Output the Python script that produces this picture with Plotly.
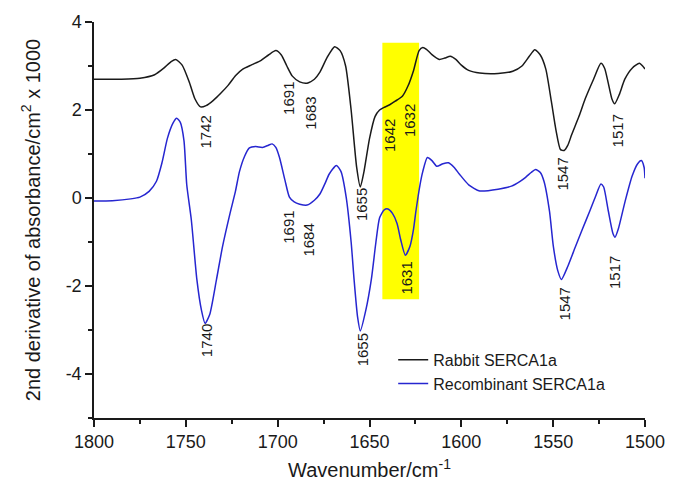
import plotly.graph_objects as go

# ---- data (wavenumber cm-1, 2nd derivative x1000) ----
rabbit_wn = [1800, 1785, 1775, 1767, 1762, 1758, 1755.5, 1752, 1748, 1745, 1742, 1739, 1735, 1731,
             1727, 1723, 1719, 1714, 1709, 1705, 1701, 1698, 1695, 1692, 1688, 1684, 1680, 1677,
             1673, 1669, 1666, 1663, 1660, 1657, 1655, 1653, 1650, 1647, 1644.5, 1642, 1639, 1636,
             1632, 1629, 1626, 1623, 1621, 1619, 1616, 1612, 1609, 1606, 1603, 1600, 1596, 1590,
             1580, 1572, 1567, 1563, 1560, 1557, 1554, 1551, 1548.5, 1546, 1544, 1542, 1540, 1536,
             1532.5, 1528, 1524, 1522, 1520, 1518, 1516.5, 1514, 1511, 1507, 1503, 1500]
rabbit_val = [2.70, 2.70, 2.72, 2.80, 2.95, 3.10, 3.15, 3.02, 2.62, 2.25, 2.07, 2.10, 2.22, 2.38,
              2.56, 2.78, 2.93, 3.03, 3.13, 3.25, 3.35, 3.25, 3.00, 2.77, 2.64, 2.61, 2.70, 2.86,
              3.20, 3.44, 3.35, 3.00, 2.00, 0.70, 0.25, 0.60, 1.35, 1.85, 2.00, 2.06, 2.12, 2.20,
              2.32, 2.55, 2.90, 3.35, 3.42, 3.38, 3.26, 3.15, 3.18, 3.22, 3.15, 3.02, 2.90, 2.84,
              2.83, 2.88, 3.00, 3.22, 3.37, 3.25, 2.93, 2.20, 1.55, 1.10, 1.08, 1.20, 1.43, 1.85,
              2.26, 2.70, 3.06, 2.95, 2.61, 2.25, 2.14, 2.35, 2.70, 2.95, 3.06, 2.93]

recomb_wn = [1800, 1790, 1780, 1775, 1770, 1766, 1763, 1760, 1757, 1755, 1753, 1751, 1749.5, 1747,
             1744, 1741.5, 1739.5, 1737, 1733.3, 1730, 1726, 1723, 1720.8, 1718, 1715.4, 1712, 1708.3,
             1705, 1703, 1701, 1699, 1696, 1693.6, 1691, 1688, 1684, 1680, 1677, 1674, 1672, 1668,
             1665.5, 1662.7, 1660, 1658.4, 1656.5, 1655, 1652, 1649, 1646.5, 1644.5, 1642, 1640,
             1637.5, 1635, 1633, 1630.5, 1628, 1626, 1624.7, 1622.5, 1621, 1618.5, 1616, 1613.4,
             1610, 1607, 1604, 1601, 1596, 1590, 1580, 1572.7, 1568, 1565, 1562, 1559.6, 1557, 1555,
             1552, 1549.9, 1547.5, 1545.5, 1542, 1538, 1534, 1530, 1527, 1524, 1522.5,
             1520, 1517.5, 1516.3, 1514.5, 1510.8, 1507, 1504, 1502, 1500.5, 1500]
recomb_val = [-0.07, -0.06, -0.02, 0.02, 0.15, 0.38, 0.80, 1.36, 1.70, 1.81, 1.72, 1.30, 0.30, -0.50,
              -1.85, -2.55, -2.85, -2.65, -1.85, -1.10, -0.36, 0.15, 0.60, 0.95, 1.14, 1.17, 1.15,
              1.20, 1.23, 1.15, 0.92, 0.40, 0.02, -0.09, -0.14, -0.16, -0.05, 0.09, 0.35, 0.54, 0.74,
              0.60, 0.02, -1.00, -1.85, -2.70, -3.02, -2.55, -1.85, -1.00, -0.45, -0.27, -0.25,
              -0.35, -0.58, -0.95, -1.30, -1.10, -0.70, -0.29, 0.30, 0.60, 0.92, 0.85, 0.72,
              0.78, 0.80, 0.70, 0.54, 0.30, 0.16, 0.20, 0.27, 0.38, 0.47, 0.58, 0.65, 0.58, 0.38,
              -0.30, -1.10, -1.65, -1.85, -1.55, -1.12, -0.70, -0.29, 0.03, 0.32, 0.25,
              -0.29, -0.80, -0.89, -0.70, -0.07, 0.50, 0.78, 0.85, 0.70, 0.45]

# peak labels: text, x (wavenumber), y (value) of label centre
rabbit_labels = ["1742", "1691", "1683", "1655", "1642", "1632", "1547", "1517"]
rabbit_lab_x = [1739.8, 1694.2, 1682.3, 1654.6, 1639.4, 1628.5, 1545.0, 1515.1]
rabbit_lab_y = [1.50, 2.26, 1.92, -0.16, 1.43, 1.77, 0.54, 1.52]

recomb_labels = ["1740", "1691", "1684", "1655", "1631", "1547", "1517"]
recomb_lab_x = [1738.7, 1694.2, 1683.3, 1653.8, 1629.6, 1543.9, 1516.2]
recomb_lab_y = [-3.24, -0.67, -0.96, -3.45, -1.81, -2.41, -1.70]

# highlighted region
band_x = [1643, 1623]
band_y = [-2.3, 3.53]

# axis ticks
x_ticks = [1800, 1750, 1700, 1650, 1600, 1550, 1500]
y_ticks = [-4, -2, 0, 2, 4]
y_tick_text = ["-4", "-2", "0", "2", "4"]

FONT = "Arial, Liberation Sans, Helvetica, sans-serif"

fig = go.Figure()
fig.add_trace(go.Scatter(x=rabbit_wn, y=rabbit_val, mode="lines", name="Rabbit SERCA1a",
                         line=dict(color="#1a1a1a", width=1.5, shape="spline", smoothing=0.6)))
fig.add_trace(go.Scatter(x=recomb_wn, y=recomb_val, mode="lines", name="Recombinant SERCA1a",
                         line=dict(color="#2626d0", width=1.5, shape="spline", smoothing=0.6)))

fig.add_shape(type="rect", xref="x", yref="y", x0=band_x[0], x1=band_x[1], y0=band_y[0], y1=band_y[1],
              fillcolor="#ffff00", line=dict(width=0), layer="below")

for t, x, y in zip(rabbit_labels + recomb_labels, rabbit_lab_x + recomb_lab_x, rabbit_lab_y + recomb_lab_y):
    fig.add_annotation(x=x, y=y, text=t, showarrow=False, textangle=-90,
                       font=dict(size=15, color="#1a1a1a", family=FONT))

fig.update_layout(
    width=677, height=492,
    margin=dict(l=94, r=30, t=15, b=74),
    paper_bgcolor="white", plot_bgcolor="white",
    font=dict(family=FONT, color="#1a1a1a"),
    legend=dict(x=0.543, y=0.19, xanchor="left", yanchor="top", bgcolor="rgba(0,0,0,0)",
                font=dict(size=16, family=FONT), tracegroupgap=0),
    xaxis=dict(range=[1800, 1500], autorange=False, showgrid=False, zeroline=False,
               showline=True, linecolor="#1a1a1a", linewidth=1.5,
               ticks="outside", ticklen=7, tickwidth=1.5, tickcolor="#1a1a1a",
               tickvals=x_ticks,
               minor=dict(ticks="outside", ticklen=4, tickwidth=1.5, tickcolor="#1a1a1a", dtick=25, showgrid=False),
               tickfont=dict(size=18),
               title=dict(text="Wavenumber/cm<sup>-1</sup>", font=dict(size=20), standoff=12)),
    yaxis=dict(range=[-5, 4], autorange=False, showgrid=False, zeroline=False,
               showline=True, linecolor="#1a1a1a", linewidth=1.5,
               ticks="outside", ticklen=7, tickwidth=1.5, tickcolor="#1a1a1a",
               tickvals=y_ticks, ticktext=y_tick_text,
               minor=dict(ticks="outside", ticklen=4, tickwidth=1.5, tickcolor="#1a1a1a", dtick=1, showgrid=False),
               tickfont=dict(size=18),
               title=dict(text="2nd derivative of absorbance/cm<sup>2</sup> x 1000", font=dict(size=20), standoff=20)),
)

fig.write_html("out.html")
